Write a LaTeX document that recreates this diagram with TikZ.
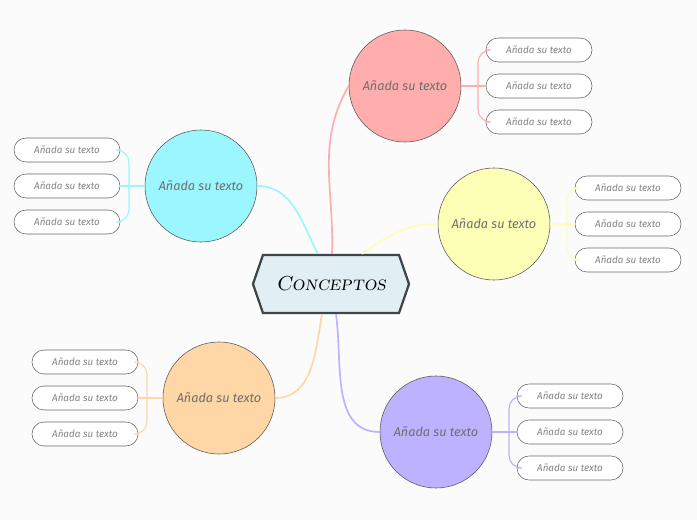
\documentclass[tikz,border=0pt]{standalone}
\usepackage{fontspec}
\setsansfont{Fira Sans}
\usepackage{tikz}
\usetikzlibrary{shapes, arrows.meta, positioning, calc}

\definecolor{bgc}{HTML}{FBFBFB}
\definecolor{hubfill}{HTML}{E1EEF4}
\definecolor{hubline}{HTML}{3E4649}
\definecolor{cRed}{HTML}{FFADAD}
\definecolor{cCyan}{HTML}{9BF6FF}
\definecolor{cYellow}{HTML}{FDFFB6}
\definecolor{cOrange}{HTML}{FFD6A5}
\definecolor{cPurple}{HTML}{BDB2FF}
\definecolor{txt}{HTML}{6E6E6E}

\begin{document}
\begin{tikzpicture}[
    x=0.025cm, y=0.025cm,
    hub/.style={
        draw=hubline, line width=1.6pt, fill=hubfill,
        shape=signal, signal to=east and west,
        signal pointer angle=142,
        minimum width=3.9cm, minimum height=1.45cm,
        inner sep=0pt,
        font=\Large\scshape\itshape
    },
    topic/.style={
        circle, draw=black!65, thin,
        minimum size=2.8cm, inner sep=0pt,
        font=\sffamily\itshape\small, text=txt
    },
    leaf/.style={
        draw=black!60, fill=white, rounded corners=0.3cm,
        minimum width=2.65cm, minimum height=0.6cm,
        inner sep=0pt,
        font=\sffamily\itshape\scriptsize, text=txt!85
    },
    link/.style={line width=1.2pt},
    twig/.style={line width=0.8pt, rounded corners=9pt}
]
% background and bounding box
\fill[bgc] (0,0) rectangle (697,520);
\useasboundingbox (0,0) rectangle (697,520);

% ------- Central node -------
\node[hub] (hub) at (331,236) {Conceptos};

% ------- Topics -------
\node[topic, fill=cRed]    (tRed)    at (405,434) {Añada su texto};
\node[topic, fill=cCyan]   (tCyan)   at (201,334) {Añada su texto};
\node[topic, fill=cYellow] (tYellow) at (494,296) {Añada su texto};
\node[topic, fill=cOrange] (tOrange) at (219,122) {Añada su texto};
\node[topic, fill=cPurple] (tPurple) at (436,88)  {Añada su texto};

% ------- Hub to topics -------
\draw[link, cRed]    ($(hub.north)+(1,0)$)   to[out=88,  in=240] (tRed.west);
\draw[link, cCyan]   ($(hub.north)+(-13,0)$) to[out=118, in=0]   (tCyan.east);
\draw[link, cYellow] ($(hub.north)+(31,0)$)  to[out=35,  in=180] (tYellow.west);
\draw[link, cOrange] ($(hub.south)+(-9,0)$)  to[out=-100, in=0]  (tOrange.east);
\draw[link, cPurple] ($(hub.south)+(5,0)$)   to[out=-82, in=180] (tPurple.west);

% ------- Leaves (right side) -------
\foreach \t/\c in {tRed/cRed, tYellow/cYellow, tPurple/cPurple} {
    \coordinate (\t j) at ($(\t.center)+(73,0)$);
    \foreach \k/\dy in {1/36, 2/0, 3/-36}
        \node[leaf] (\t l\k) at ($(\t.center)+(134,\dy)$) {Añada su texto};
    \draw[twig, \c] (\t.east) -- (\t l2.west);
    \draw[twig, \c] (\t l1.west) -| (\t j) |- (\t l3.west);
}

% ------- Leaves (left side) -------
\foreach \t/\c in {tCyan/cCyan, tOrange/cOrange} {
    \coordinate (\t j) at ($(\t.center)+(-72,0)$);
    \foreach \k/\dy in {1/36, 2/0, 3/-36}
        \node[leaf] (\t l\k) at ($(\t.center)+(-134,\dy)$) {Añada su texto};
    \draw[twig, \c] (\t.west) -- (\t l2.east);
    \draw[twig, \c] (\t l1.east) -| (\t j) |- (\t l3.east);
}
\end{tikzpicture}
\end{document}
